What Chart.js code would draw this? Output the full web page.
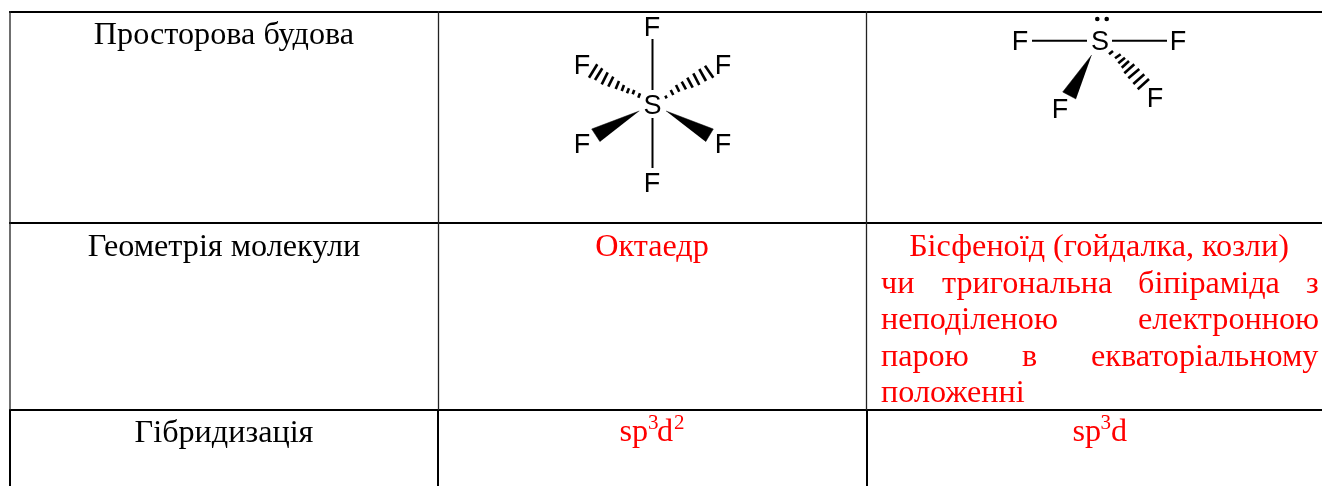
<!DOCTYPE html>
<html lang="uk">
<head>
<meta charset="utf-8">
<title>SF6 і SF4</title>
<style>html,body{margin:0;padding:0;background:#fff}canvas{display:block}</style>
<script src="https://cdn.jsdelivr.net/npm/chart.js@4"></script>
</head>
<body>
<canvas id="c" width="1322" height="486"></canvas>
<script>
// Table rules, as [x1,y1,x2,y2]
const heavyRules = [
  [9,12,1322,12],[9,223,1322,223],[9,410,1322,410],
  [10,409,10,486],[438,409,438,486],[867,409,867,486]
];
const thinRules = [[10,11,10,410],[438.5,11,438.5,410],[866.5,11,866.5,410]];

// Row and value text
const blackText = [
  ["Просторова будова",224,44],
  ["Геометрія молекули",224,256],
  ["Гібридизація",224,442]
];
const redCentered = [
  ["Октаедр",652,256],
  ["Бісфеноїд (гойдалка, козли)",1099,256]
];
const redLeft = [
  ["чи",881,293],["тригональна",942,293],["біпіраміда",1138,293],["з",1306,293],
  ["неподіленою",881,329],["електронною",1138,329],
  ["парою",881,366],["в",1022,366],["екваторіальному",1091,366],
  ["положенні",881,402],
  ["sp",619.5,441],["d",657,441],
  ["sp",1072.5,441],["d",1111,441]
];
const redSuper = [["3",648,429],["2",674,429],["3",1100.5,429]];

// Atoms
const atoms = [
  ["F",652,36],["F",582,74],["F",723,74],["S",652.5,114],["F",582,153],["F",723,153],["F",652,192],
  ["F",1020,50],["S",1100,50],["F",1178,50],["F",1060,118],["F",1155,107]
];
const lonePair = [[1097.3,19],[1106.7,19]];

// Bonds
const plainBonds = [
  [652.5,39,652.5,90],[652.5,118,652.5,168],
  [1032,40.7,1087,40.7],[1112,40.7,1167,40.7]
];
const wedges = [
  [[639.3,111],[591.7,129],[600,141.7]],
  [[666,111],[713.3,129],[705.7,141.7]],
  [[1091.7,55],[1062.7,92],[1076,99]]
];
const hashBonds = [
  [597.3,64.3,589,77.7],[602.3,68.3,595,80],[607.7,72.3,601.7,84.3],[613.3,76.7,608.3,86.7],
  [619,81,615.7,89],[624,85,621.7,91],[629,88.3,627,93.3],[634.3,90,632.7,94.3],[640,93.3,638.3,97.7],
  [705,65.7,713.3,77.7],[699.3,69,706,81],[693.3,73.3,699.3,85],[687.3,77.7,692.7,87.7],
  [681.7,81.7,686,89.3],[676,85,679.3,91.7],[670.7,90,673.3,95],[665.3,95.7,666.7,98.3],
  [1149,79,1137.7,89.3],[1144.3,74.3,1133.3,84],[1139.3,69,1128.3,78.3],[1134.3,64.3,1124.3,73.3],
  [1129,61,1121.7,67.7],[1125,57.7,1118.3,63.3],[1120.7,54.3,1115,58.3],[1113,51,1109,54.3]
];

const seg = (s, w, color) => ({
  type:'scatter', showLine:true, pointRadius:0, borderWidth:w, borderColor:color, tension:0, clip:false,
  data:[{x:s[0],y:s[1]},{x:s[2],y:s[3]}]
});
const labels = (rows, font, color, align) => ({
  type:'scatter', showLine:false, pointRadius:0, clip:false,
  data:rows.map(r=>({x:r[1],y:r[2]})),
  textRows:rows.map(r=>r[0]), textFont:font, textColor:color, textAlign:align
});

const SERIF = '"Liberation Serif"', SANS = '"Liberation Sans"';
const datasets = [
  ...thinRules.map(s=>seg(s,1.3,'#222')),
  ...heavyRules.map(s=>seg(s,2,'#000')),
  ...plainBonds.map(s=>seg(s,2,'#000')),
  ...hashBonds.map(s=>seg(s,2.6,'#000')),
  ...wedges.map(p=>({
    type:'scatter', showLine:true, pointRadius:0, tension:0, clip:false,
    borderWidth:0.5, borderColor:'#000', backgroundColor:'#000', fill:'shape',
    data:p.map(q=>({x:q[0],y:q[1]}))
  })),
  {type:'scatter', showLine:false, pointRadius:2.3, borderWidth:0, pointBackgroundColor:'#000', clip:false,
   data:lonePair.map(q=>({x:q[0],y:q[1]}))},
  labels(blackText,'32.2px '+SERIF,'#000','center'),
  labels(redCentered,'32.2px '+SERIF,'#f00','center'),
  labels(redLeft,'32.2px '+SERIF,'#f00','left'),
  labels(redSuper,'21px '+SERIF,'#f00','left'),
  labels(atoms,'27px '+SANS,'#000','center')
];

const textPlugin = {
  id:'textRows',
  afterDatasetsDraw(chart){
    const ctx = chart.ctx;
    chart.data.datasets.forEach((d,i)=>{
      if(!d.textRows) return;
      const pts = chart.getDatasetMeta(i).data;
      ctx.save();
      ctx.font = d.textFont; ctx.fillStyle = d.textColor;
      ctx.textAlign = d.textAlign; ctx.textBaseline = 'alphabetic';
      d.textRows.forEach((t,k)=>ctx.fillText(t,pts[k].x,pts[k].y));
      ctx.restore();
    });
  }
};

new Chart(document.getElementById('c'),{
  type:'scatter',
  data:{datasets},
  plugins:[textPlugin],
  options:{
    responsive:false, animation:false, events:[],
    layout:{padding:0,autoPadding:false},
    plugins:{legend:{display:false},tooltip:{enabled:false},title:{display:false}},
    scales:{
      x:{type:'linear',min:0,max:1322,display:false},
      y:{type:'linear',min:0,max:486,reverse:true,display:false}
    }
  }
});
</script>
</body>
</html>
